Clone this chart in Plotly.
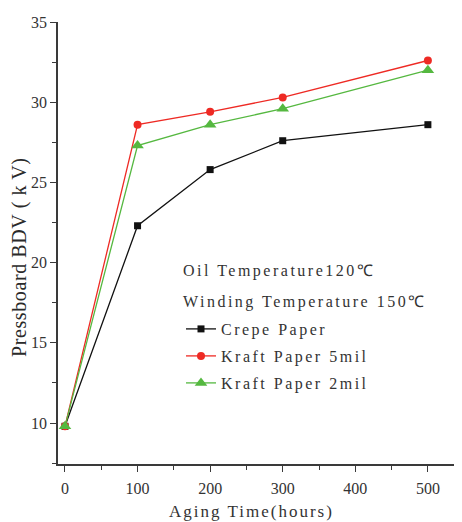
import plotly.graph_objects as go

aging_hours = [0, 100, 200, 300, 500]
crepe_paper = [9.8, 22.3, 25.8, 27.6, 28.6]
kraft_5mil = [9.8, 28.6, 29.4, 30.3, 32.6]
kraft_2mil = [9.8, 27.3, 28.6, 29.6, 32.0]

series_names = ["Crepe Paper", "Kraft Paper 5mil", "Kraft Paper 2mil"]
x_ticks = [0, 100, 200, 300, 400, 500]
y_ticks = [10, 15, 20, 25, 30, 35]

FONT = "Liberation Serif"
AXIS_COLOR = "#3a3a3a"

# figure sits 8px inside the page (body margin)
W, H = 454, 514
ML, MT, MB = 50, 14, 58
PW, PH = W - ML, H - MT - MB

def px_x(page_x):
    return (page_x - 8 - ML) / PW

def px_y(page_y):
    return 1 - (page_y - 8 - MT) / PH

def spaced(s, px=2.5):
    return f'<span style="letter-spacing:{px}px">{s}</span>'

fig = go.Figure()
fig.add_trace(go.Scatter(x=aging_hours, y=crepe_paper, name=spaced(series_names[0]),
                         mode="lines+markers", legend="legend",
                         line=dict(color="#111111", width=1.3),
                         marker=dict(symbol="square", size=7, color="#111111")))
fig.add_trace(go.Scatter(x=aging_hours, y=kraft_5mil, name=spaced(series_names[1]),
                         mode="lines+markers", legend="legend2",
                         line=dict(color="#ee2a24", width=1.3),
                         marker=dict(symbol="circle", size=8, color="#ee2a24")))
fig.add_trace(go.Scatter(x=aging_hours, y=kraft_2mil, name=spaced(series_names[2]),
                         mode="lines+markers", legend="legend3",
                         line=dict(color="#55b840", width=1.3),
                         marker=dict(symbol="triangle-up", size=11, color="#55b840")))

def axis_common(ticks, minor_step):
    return dict(
        showgrid=False, zeroline=False, showline=True, linecolor=AXIS_COLOR, linewidth=1.5,
        automargin=False,
        tickmode="linear", tick0=ticks[0], dtick=ticks[1] - ticks[0],
        ticks="outside", tickcolor=AXIS_COLOR, tickwidth=1.3, ticklen=6,
        tickfont=dict(family=FONT, size=16, color="#333333"),
        minor=dict(ticks="outside", ticklen=4, tickcolor=AXIS_COLOR, tickwidth=1.2,
                   tick0=ticks[0], dtick=minor_step),
    )

fig.update_xaxes(range=[-9.6, 547], **axis_common(x_ticks, 50), ticklabelstandoff=3)
fig.update_yaxes(range=[7.45, 35], **axis_common(y_ticks, 2.5))

# axis titles placed as in the reference
fig.add_annotation(text=spaced("Aging Time(hours)", 2), xref="paper", yref="paper",
                   x=px_x(251), y=px_y(511),
                   xanchor="center", yanchor="middle", showarrow=False,
                   font=dict(family=FONT, size=17, color="#333333"))
fig.add_annotation(text=spaced("Pressboard BDV ( k V)", 0.6), xref="paper", yref="paper",
                   x=px_x(19), y=px_y(257), textangle=-90,
                   xanchor="center", yanchor="middle", showarrow=False,
                   font=dict(family=FONT, size=20, color="#2a2a2a"))

for txt, ypix in [("Oil Temperature120℃", 271), ("Winding Temperature 150℃", 302)]:
    fig.add_annotation(text=spaced(txt), xref="paper", yref="paper",
                       x=px_x(181), y=px_y(ypix),
                       xanchor="left", yanchor="middle", showarrow=False,
                       font=dict(family=FONT, size=16, color="#333333"))

def legend_at(page_y):
    return dict(x=px_x(181), y=px_y(page_y), xanchor="left", yanchor="middle",
                bgcolor="rgba(0,0,0,0)", borderwidth=0,
                font=dict(family=FONT, size=16, color="#333333"), itemwidth=30)

fig.update_layout(
    width=W, height=H,
    margin=dict(l=ML, r=0, t=MT, b=MB),
    paper_bgcolor="white", plot_bgcolor="white",
    showlegend=True,
    legend=legend_at(329),
    legend2=legend_at(356),
    legend3=legend_at(383),
)

fig.write_html("out.html")
